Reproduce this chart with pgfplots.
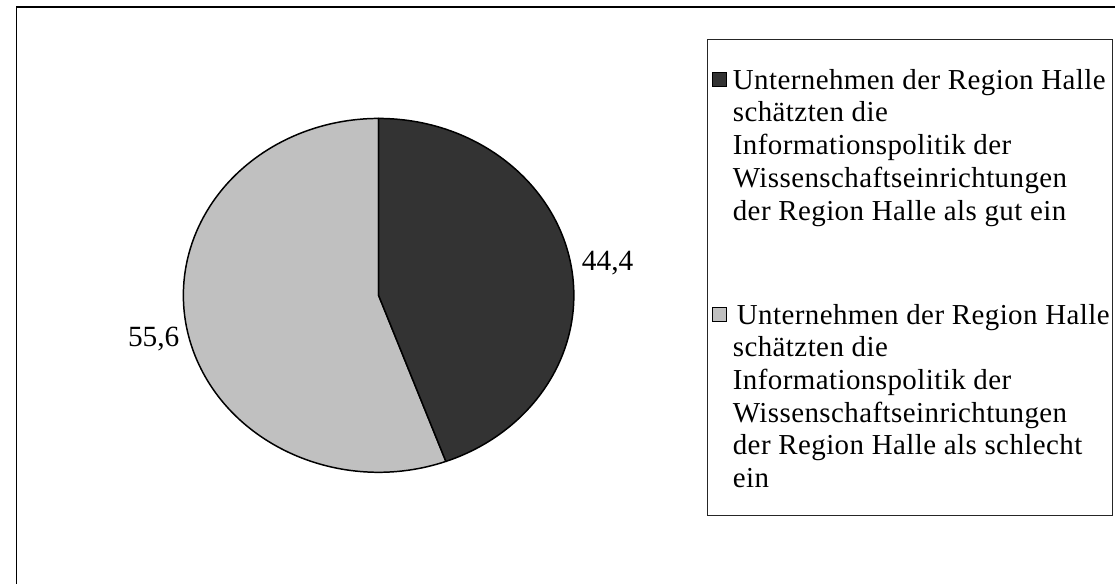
\documentclass[border=0pt]{standalone}
\usepackage{pgfplots}
\usepackage{pgfplotstable}
\pgfplotsset{compat=1.18}
\usepackage{fontspec}
\setmainfont{Liberation Serif}
\newfontfamily\legfont[LetterSpace=1.5]{Liberation Serif}
\definecolor{darkslice}{HTML}{333333}
\definecolor{lightslice}{HTML}{C0C0C0}
\pgfplotstableread{
label value
gut 44.4
schlecht 55.6
}\piedata
\begin{document}
\pgfplotstablegetelem{0}{value}\of\piedata
\let\vA\pgfplotsretval
\pgfplotstablegetelem{1}{value}\of\piedata
\let\vB\pgfplotsretval
\pgfmathsetmacro{\angA}{90-3.6*\vA}
\pgfmathsetmacro{\angB}{\angA-3.6*\vB}
\begin{tikzpicture}
\useasboundingbox (0,0) rectangle (557.5pt,294.5pt);
% outer chart frame (top and left visible)
\draw[black, line width=0.6pt] (3.5pt,-2pt) -- (3.5pt,291pt) -- (560pt,291pt);
\begin{axis}[
  scale only axis, width=197pt, height=178.5pt,
  at={(87.5pt,56.25pt)}, anchor=south west,
  xmin=-1, xmax=1, ymin=-1, ymax=1,
  hide axis, clip=false]
\filldraw[fill=lightslice, draw=black, line width=0.75pt, line join=round]
  (axis cs:0,0) -- (axis cs:{cos(\angA)},{sin(\angA)})
  arc[start angle=\angA, end angle=\angB, x radius=98.5pt, y radius=89.25pt] -- cycle;
\filldraw[fill=darkslice, draw=black, line width=0.75pt, line join=round]
  (axis cs:0,0) -- (axis cs:0,1)
  arc[start angle=90, end angle=\angA, x radius=98.5pt, y radius=89.25pt] -- cycle;
\node[font=\fontsize{14.8}{16}\selectfont, inner sep=0pt] at (axis cs:1.173,0.185) {44,4};
\node[font=\fontsize{14.8}{16}\selectfont, inner sep=0pt] at (axis cs:-1.152,-0.246) {55,6};
\end{axis}
% legend
\draw[black!85, line width=0.5pt] (352pt,34.5pt) rectangle (556pt,274.5pt);
\filldraw[fill=darkslice, draw=black, line width=0.6pt] (354.5pt,251pt) rectangle (361.5pt,258pt);
\filldraw[fill=lightslice, draw=black, line width=0.6pt] (354.5pt,132.5pt) rectangle (361.5pt,139.5pt);
\begin{scope}[every node/.style={anchor=base west, inner sep=0pt, font=\legfont\fontsize{14.6}{16.5}\selectfont}]
\node at (364.5pt,249.5pt) {Unternehmen der Region Halle};
\node at (364.5pt,233pt) {schätzten die};
\node at (364.5pt,216.5pt) {Informationspolitik der};
\node at (364.5pt,200pt) {Wissenschaftseinrichtungen};
\node at (364.5pt,183.5pt) {der Region Halle als gut ein};
\node at (366.5pt,131pt) {Unternehmen der Region Halle};
\node at (364.5pt,114.5pt) {schätzten die};
\node at (364.5pt,98pt) {Informationspolitik der};
\node at (364.5pt,81.5pt) {Wissenschaftseinrichtungen};
\node at (364.5pt,65pt) {der Region Halle als schlecht};
\node at (364.5pt,48.5pt) {ein};
\end{scope}
\end{tikzpicture}
\end{document}
